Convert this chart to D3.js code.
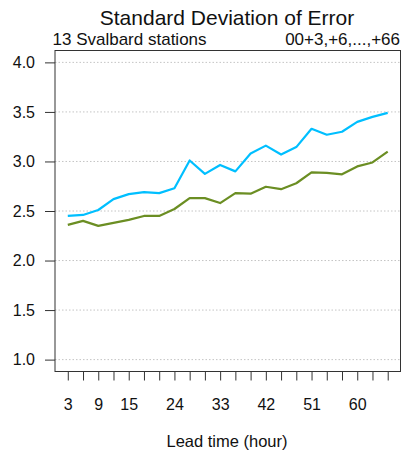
<!DOCTYPE html>
<html>
<head>
<meta charset="utf-8">
<script src="https://cdn.jsdelivr.net/npm/d3@7"></script>
<style>
  html, body { margin: 0; padding: 0; background: #fff; }
  svg { display: block; font-family: "Liberation Sans", Arial, Helvetica, sans-serif; }
</style>
</head>
<body>
<svg id="chart" width="401" height="459"></svg>
<script>
// Lead times (hours) and standard deviation of error for two model runs
const leadTimes = [3, 6, 9, 12, 15, 18, 21, 24, 27, 30, 33, 36, 39, 42, 45, 48, 51, 54, 57, 60, 63, 66];
const sdBlue = [2.45, 2.46, 2.51, 2.62, 2.67, 2.69, 2.68, 2.73, 3.01, 2.875, 2.965, 2.90, 3.08, 3.16, 3.07, 3.145, 3.33, 3.27, 3.30, 3.40, 3.45, 3.49];
const sdGreen = [2.36, 2.40, 2.35, 2.38, 2.41, 2.45, 2.45, 2.52, 2.63, 2.63, 2.58, 2.68, 2.675, 2.745, 2.72, 2.78, 2.89, 2.885, 2.87, 2.95, 2.99, 3.10];
const yTicks = [1.0, 1.5, 2.0, 2.5, 3.0, 3.5, 4.0];
const xLabelTicks = [3, 9, 15, 24, 33, 42, 51, 60];

const titleText = "Standard Deviation of Error";
const subLeft = "13 Svalbard stations";
const subRight = "00+3,+6,...,+66";
const xTitle = "Lead time (hour)";

const svg = d3.select("#chart");
const frame = { left: 55, right: 400.5, top: 50.5, bottom: 371.5 };

// Axis domains padded by 4% like a classic R plot
const xPad = (66 - 3) * 0.04, yPad = (4 - 1) * 0.04;
const x = d3.scaleLinear().domain([3 - xPad, 66 + xPad]).range([frame.left, frame.right]);
const y = d3.scaleLinear().domain([1 - yPad, 4 + yPad]).range([frame.bottom, frame.top]);

// Horizontal dotted grid
svg.append("g")
  .selectAll("line")
  .data(yTicks)
  .join("line")
  .attr("x1", frame.left).attr("x2", frame.right)
  .attr("y1", d => y(d)).attr("y2", d => y(d))
  .attr("stroke", "#c4c4c4")
  .attr("stroke-width", 1)
  .attr("stroke-dasharray", "1.5,2");

// Y axis
const yAxis = d3.axisLeft(y).tickValues(yTicks).tickFormat(d3.format(".1f")).tickSize(10).tickPadding(10);
svg.append("g")
  .attr("transform", `translate(${frame.left},0)`)
  .call(yAxis)
  .call(g => g.select(".domain").remove())
  .call(g => g.selectAll("line").attr("stroke", "#333"))
  .call(g => g.selectAll("text").attr("font-size", 16).attr("fill", "#111").attr("font-family", null));

// X axis: tick at every lead time, labels at a subset
const xAxis = d3.axisBottom(x).tickValues(leadTimes).tickSize(9).tickPadding(18)
  .tickFormat(d => xLabelTicks.includes(d) ? d : "");
svg.append("g")
  .attr("transform", `translate(0,${frame.bottom})`)
  .call(xAxis)
  .call(g => g.select(".domain").remove())
  .call(g => g.selectAll("line").attr("stroke", "#333"))
  .call(g => g.selectAll("text").attr("font-size", 16).attr("fill", "#111").attr("font-family", null));

// Lines
const line = vals => d3.line().x((d, i) => x(leadTimes[i])).y(d => y(d))(vals);
svg.append("path").attr("d", line(sdGreen)).attr("fill", "none")
  .attr("stroke", "#6b8e23").attr("stroke-width", 2.2).attr("stroke-linejoin", "round");
svg.append("path").attr("d", line(sdBlue)).attr("fill", "none")
  .attr("stroke", "#00bfff").attr("stroke-width", 2.2).attr("stroke-linejoin", "round");

// Plot frame
svg.append("rect")
  .attr("x", frame.left).attr("y", frame.top)
  .attr("width", frame.right - frame.left).attr("height", frame.bottom - frame.top)
  .attr("fill", "none").attr("stroke", "#333").attr("stroke-width", 1);

// Titles
svg.append("text").attr("x", 227).attr("y", 25).attr("text-anchor", "middle")
  .attr("font-size", 21).attr("fill", "#111").text(titleText);
svg.append("text").attr("x", 52.5).attr("y", 45).attr("text-anchor", "start")
  .attr("font-size", 17).attr("fill", "#111").text(subLeft);
svg.append("text").attr("x", 400).attr("y", 45).attr("text-anchor", "end")
  .attr("font-size", 17).attr("fill", "#111").text(subRight);
svg.append("text").attr("x", 227).attr("y", 447).attr("text-anchor", "middle")
  .attr("font-size", 16.5).attr("fill", "#111").text(xTitle);
</script>
</body>
</html>
